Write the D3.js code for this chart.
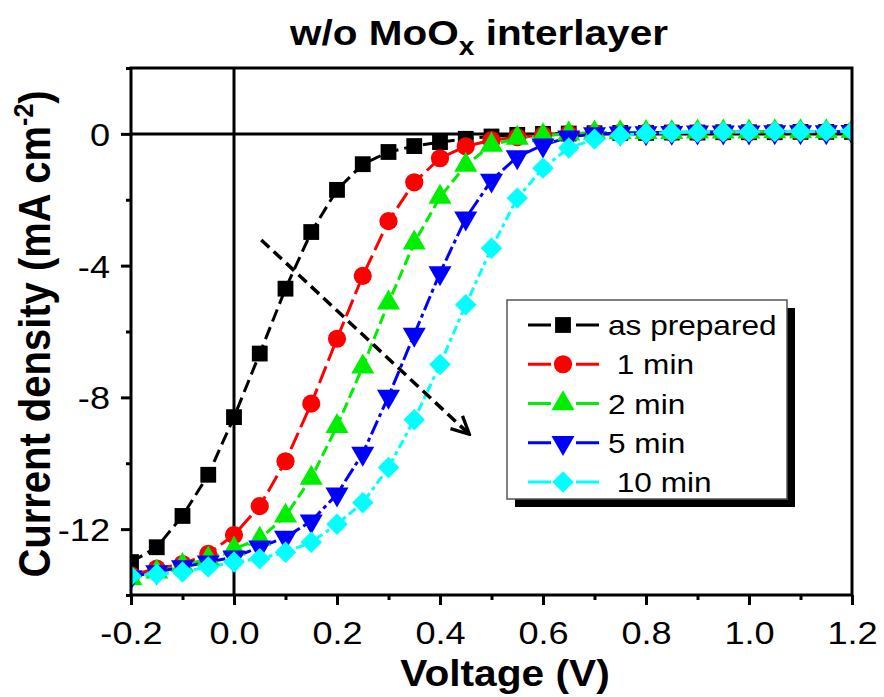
<!DOCTYPE html>
<html>
<head>
<meta charset="utf-8">
<script src="https://cdn.jsdelivr.net/npm/d3@7"></script>
<style>
	body { margin: 0; background: #fff; }
	svg { font-family: "Liberation Sans", Arial, sans-serif; }
</style>
</head>
<body>
<main></main>
<script>
// DATA
// voltage steps (V)
const voltage = [-0.2, -0.15, -0.1, -0.05, 0, 0.05, 0.1, 0.15, 0.2, 0.25, 0.3, 0.35, 0.4, 0.45, 0.5, 0.55, 0.6,
	0.65, 0.7, 0.75, 0.8, 0.85, 0.9, 0.95, 1.0, 1.05, 1.1, 1.15, 1.2];
// current density (mA cm-2) per treatment
const asPrepared = [-13.0, -12.55, -11.6, -10.35, -8.6, -6.67, -4.7, -2.98, -1.7, -0.92, -0.55, -0.37, -0.25, -0.15,
	-0.08, -0.03, 0, 0.01, 0.02, 0.03, 0.03, 0.04, 0.04, 0.05, 0.05, 0.05, 0.06, 0.06, 0.06];
const min1 = [-13.4, -13.2, -13.06, -12.75, -12.18, -11.3, -9.94, -8.19, -6.22, -4.31, -2.65, -1.47, -0.74, -0.38,
	-0.19, -0.1, -0.04, 0, 0.02, 0.03, 0.04, 0.04, 0.05, 0.05, 0.05, 0.06, 0.06, 0.06, 0.07];
const min2 = [-13.5, -13.3, -13.1, -12.9, -12.6, -12.3, -11.6, -10.45, -8.88, -7.07, -5.13, -3.31, -1.92, -0.95,
	-0.34, -0.13, -0.05, 0, 0.03, 0.04, 0.05, 0.05, 0.06, 0.06, 0.06, 0.07, 0.07, 0.07, 0.08];
const min5 = [-13.45, -13.3, -13.15, -13.0, -12.85, -12.55, -12.25, -11.76, -10.94, -9.7, -7.97, -6.09, -4.22, -2.56,
	-1.41, -0.7, -0.34, -0.1, 0, 0.02, 0.03, 0.04, 0.05, 0.05, 0.05, 0.06, 0.06, 0.06, 0.07];
const min10 = [-13.42, -13.37, -13.3, -13.15, -13.0, -12.9, -12.7, -12.4, -11.85, -11.2, -10.13, -8.68, -7.0, -5.19,
	-3.47, -1.95, -1.04, -0.43, -0.16, -0.04, 0.02, 0.04, 0.05, 0.06, 0.06, 0.07, 0.07, 0.08, 0.08];
// legend labels
const seriesNames = ["as prepared", " 1 min", "2 min", "5 min", " 10 min"];
// axis ticks
const xTicks = [-0.2, 0.0, 0.2, 0.4, 0.6, 0.8, 1.0, 1.2];
const yTicks = [0, -4, -8, -12];
// guide arrow endpoints [V, mA cm-2]
const arrowFrom = [0.053, -3.22];
const arrowTo = [0.457, -9.12];


// chart dimension
const w = 884;
const h = 697;
const margin = { top: 68, right: 32, bottom: 102, left: 131 };
// text in the original is a bit wider than Arial
const stretch = 1.13;

const series = [
	{ name: seriesNames[0], values: asPrepared, color: "#000000", symbol: d3.symbolSquare, size: 250, dash: "13,6", rot: 0 },
	{ name: seriesNames[1], values: min1, color: "#ff0000", symbol: d3.symbolCircle, size: 260, dash: "18,6", rot: 0 },
	{ name: seriesNames[2], values: min2, color: "#00ee00", symbol: d3.symbolTriangle, size: 230, dash: "11,5", rot: 0 },
	{ name: seriesNames[3], values: min5, color: "#0000ff", symbol: d3.symbolTriangle, size: 230, dash: "15,4,4,4", rot: 180 },
	{ name: seriesNames[4], values: min10, color: "#00ffff", symbol: d3.symbolSquare, size: 230, dash: "9,4,4,4", rot: 45 }
];

const svg = d3.select("main").append("svg")
	.attr("width", w)
	.attr("height", h);

// scales
const x = d3.scaleLinear().domain([-0.2, 1.2]).range([margin.left, w - margin.right]);
const y = d3.scaleLinear().domain([-14, 2]).range([h - margin.bottom, margin.top]);

// clip to frame
svg.append("clipPath").attr("id", "clip")
	.append("rect")
		.attr("x", margin.left).attr("y", margin.top)
		.attr("width", w - margin.left - margin.right)
		.attr("height", h - margin.top - margin.bottom);

// zero lines
svg.append("line")
	.attr("x1", x(-0.2)).attr("x2", x(1.2))
	.attr("y1", y(0)).attr("y2", y(0))
	.attr("stroke", "#000").attr("stroke-width", 3);
svg.append("line")
	.attr("x1", x(0)).attr("x2", x(0))
	.attr("y1", y(2)).attr("y2", y(-14))
	.attr("stroke", "#000").attr("stroke-width", 3);

// curves
const plot = svg.append("g").attr("clip-path", "url(#clip)");
const line = d3.line()
	.x((d, i) => x(voltage[i]))
	.y(d => y(d));

series.forEach(s => {
	plot.append("path")
		.datum(s.values)
		.attr("fill", "none")
		.attr("stroke", s.color)
		.attr("stroke-width", 3)
		.attr("stroke-dasharray", s.dash)
		.attr("d", line);
});
series.forEach(s => {
	plot.selectAll(null)
		.data(s.values)
		.enter()
		.append("path")
			.attr("d", d3.symbol().type(s.symbol).size(s.size))
			.attr("transform", (d, i) => `translate(${x(voltage[i])},${y(d)}) rotate(${s.rot})`)
			.attr("fill", s.color);
});

// arrow
svg.append("defs").append("marker")
	.attr("id", "head")
	.attr("viewBox", "0 0 20 20")
	.attr("refX", 18).attr("refY", 10)
	.attr("markerWidth", 22).attr("markerHeight", 22)
	.attr("markerUnits", "userSpaceOnUse")
	.attr("orient", "auto")
	.append("path")
		.attr("d", "M2,2 L18,10 L2,18")
		.attr("fill", "none")
		.attr("stroke", "#000")
		.attr("stroke-width", 3);
svg.append("line")
	.attr("x1", x(arrowFrom[0])).attr("y1", y(arrowFrom[1]))
	.attr("x2", x(arrowTo[0])).attr("y2", y(arrowTo[1]))
	.attr("stroke", "#000")
	.attr("stroke-width", 3.5)
	.attr("stroke-dasharray", "11,6")
	.attr("marker-end", "url(#head)");

// axes (plain hyphen for negatives, as in the original)
const xAxis = d3.axisBottom(x).tickValues(xTicks).tickFormat(d => d.toFixed(1)).tickSize(10);
const xMinor = d3.axisBottom(x).tickValues(d3.range(-0.1, 1.2, 0.2)).tickFormat("").tickSize(5);
const yAxis = d3.axisLeft(y).tickValues(yTicks).tickFormat(d => String(d)).tickSize(10);
const yMinor = d3.axisLeft(y).tickValues([2, -2, -6, -10, -14]).tickFormat("").tickSize(5);

const gx = svg.append("g").attr("transform", `translate(0,${h - margin.bottom})`).call(xAxis);
svg.append("g").attr("transform", `translate(0,${h - margin.bottom})`).call(xMinor);
const gy = svg.append("g").attr("transform", `translate(${margin.left},0)`).call(yAxis);
svg.append("g").attr("transform", `translate(${margin.left},0)`).call(yMinor);

svg.selectAll(".domain").remove();
svg.selectAll(".tick line").attr("stroke", "#000").attr("stroke-width", 3);
svg.selectAll(".tick text").attr("font-size", 32).attr("fill", "#000")
	.attr("font-family", "'Liberation Sans', Arial, sans-serif");
gx.selectAll(".tick text")
	.attr("y", 49).attr("dy", 0)
	.attr("transform", `scale(${stretch},1)`);
gy.selectAll(".tick text")
	.attr("x", -21 / stretch)
	.attr("dy", "0.36em")
	.attr("transform", `scale(${stretch},1)`);

// frame
svg.append("rect")
	.attr("x", margin.left).attr("y", margin.top)
	.attr("width", w - margin.left - margin.right)
	.attr("height", h - margin.top - margin.bottom)
	.attr("fill", "none").attr("stroke", "#000").attr("stroke-width", 3);

// titles
const title = svg.append("text")
	.attr("transform", `translate(479,45) scale(1.125,1)`)
	.attr("text-anchor", "middle")
	.attr("font-size", 36).attr("font-weight", "bold");
title.append("tspan").text("w/o MoO");
title.append("tspan").attr("font-size", 25).attr("dy", 10).text("x");
title.append("tspan").attr("dy", -10).text(" interlayer");

svg.append("text")
	.attr("transform", `translate(505,686) scale(${stretch},1)`)
	.attr("text-anchor", "middle")
	.attr("font-size", 36).attr("font-weight", "bold")
	.text("Voltage (V)");

const yt = svg.append("text")
	.attr("transform", `translate(50,334) scale(${stretch},1) rotate(-90)`)
	.attr("text-anchor", "middle")
	.attr("font-size", 40).attr("font-weight", "bold");
yt.append("tspan").text("Current density (mA cm");
yt.append("tspan").attr("font-size", 25).attr("dy", -15).text("-2");
yt.append("tspan").attr("dy", 15).text(")");

// legend
const lg = svg.append("g").attr("transform", "translate(507,300)");
lg.append("rect").attr("x", 8).attr("y", 8).attr("width", 280).attr("height", 199).attr("fill", "#000");
lg.append("rect").attr("x", 0).attr("y", 0).attr("width", 280).attr("height", 199)
	.attr("fill", "#fff").attr("stroke", "#555").attr("stroke-width", 1.5);
series.forEach((s, i) => {
	const row = lg.append("g").attr("transform", `translate(0,${25 + i * 39.25})`);
	row.append("line").attr("x1", 21).attr("x2", 92).attr("y1", 0).attr("y2", 0)
		.attr("stroke", s.color).attr("stroke-width", 3).attr("stroke-dasharray", "23,25,23");
	row.append("path")
		.attr("d", d3.symbol().type(s.symbol).size(s.size))
		.attr("transform", `translate(56,0) rotate(${s.rot})`)
		.attr("fill", s.color);
	row.append("text")
		.attr("transform", `translate(101,10) scale(1.17,1)`)
		.attr("font-size", 27)
		.attr("xml:space", "preserve")
		.style("white-space", "pre")
		.text(s.name);
});
</script>
</body>
</html>
